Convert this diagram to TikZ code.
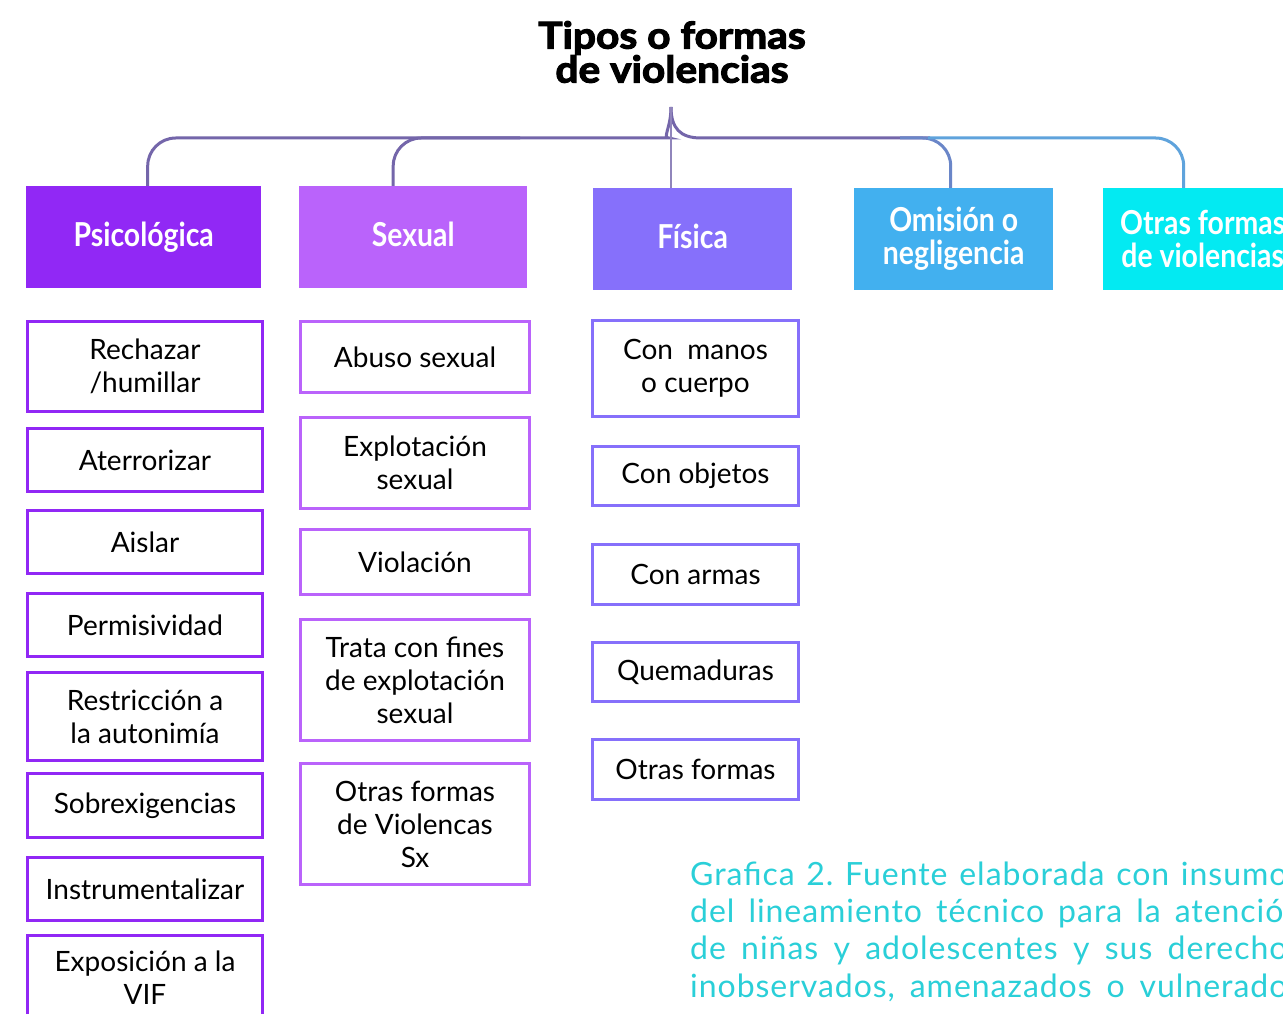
\documentclass[tikz,border=0pt]{standalone}
\usepackage{fontspec}
\setmainfont{Lato}
\newfontfamily\headfont[FakeStretch=0.86]{Lato}
\newfontfamily\titlefont[FakeStretch=1.1,FakeBold=3]{Lato}
\newfontfamily\capfont[LetterSpace=3]{Lato}
\usetikzlibrary{calc}

\definecolor{psicolor}{HTML}{9128F5}
\definecolor{sexcolor}{HTML}{BA63FB}
\definecolor{fiscolor}{HTML}{8670FB}
\definecolor{omicolor}{HTML}{42B0EF}
\definecolor{otrcolor}{HTML}{03EAF2}
\definecolor{linkA}{HTML}{7466AA}
\definecolor{linkB}{HTML}{6A86C8}
\definecolor{linkC}{HTML}{5FA3DC}
\definecolor{capcolor}{HTML}{2ACFD8}

\tikzset{
  head/.style={fill=#1, text=white, font=\headfont\bfseries\fontsize{33}{33}\selectfont,
    align=center, inner sep=0pt, anchor=north west},
  item/.style={draw=#1, line width=3pt, text=black, font=\fontsize{28}{33}\selectfont,
    align=center, inner sep=0pt, anchor=north west},
  link/.style={line width=3pt, draw=#1},
  caption/.style={text=capcolor, font=\capfont\frenchspacing\fontsize{32}{37}\selectfont, inner sep=0pt, anchor=base west}
}

\begin{document}
\begin{tikzpicture}[x=1pt,y=-1pt]

\clip (0,0) rectangle (1283,1014);
\fill[white] (0,0) rectangle (1283,1014);

% titulo
\node[font=\titlefont\bfseries\fontsize{37}{34}\selectfont, align=center] (titulo) at (672,52) {Tipos o formas\\de violencias};

% cabeceras
\node[head=psicolor, minimum width=235, minimum height=102] (psi) at (26,186) {Psicológica};
\node[head=sexcolor, minimum width=228, minimum height=102] (sex) at (299,186) {Sexual\vphantom{g}};
\node[head=fiscolor, minimum width=199, minimum height=102] (fis) at (593,188) {Física\vphantom{g}};
\node[head=omicolor, minimum width=199, minimum height=102] (omi) at (854,188) {Omisión o\\negligencia};
\node[head=otrcolor, minimum width=199, minimum height=102] (otr) at (1103,188) {Otras formas\\de violencias};

% llave
\coordinate (punta) at (671,107);
\draw[link=linkA, rounded corners=28] ($(psi.north)+(4,0)$) |- (641,138) .. controls (662,138) and (671,128) .. (punta);
\draw[link=linkA, rounded corners=28] ($(sex.north)+(-20,0)$) |- (520,138);
\draw[link=linkA] (punta) .. controls (671,128) and (680,138) .. (701,138) -- (930,138);
\draw[link=linkB, rounded corners=28] (900,138) -| ($(omi.north)+(-3,0)$);
\draw[link=linkC, rounded corners=28] (928,138) -| ($(otr.north)+(-19,0)$);
\draw[linkA!80!white, line width=2pt] (punta) -- (punta |- fis.north);

% Psicologica
\node[item=psicolor, minimum width=235, minimum height=90] (p1) at (26,320) {Rechazar\\/humillar};
\node[item=psicolor, minimum width=235, minimum height=63] (p2) at (26,427) {Aterrorizar};
\node[item=psicolor, minimum width=235, minimum height=63] (p3) at (26,509) {Aislar};
\node[item=psicolor, minimum width=235, minimum height=63] (p4) at (26,592) {Permisividad};
\node[item=psicolor, minimum width=235, minimum height=88] (p5) at (26,671) {Restricción a\\la autonimía};
\node[item=psicolor, minimum width=235, minimum height=64] (p6) at (26,772) {Sobrexigencias};
\node[item=psicolor, minimum width=235, minimum height=63] (p7) at (26,856) {Instrumentalizar};
\node[item=psicolor, minimum width=235, minimum height=84] (p8) at (26,934) {Exposición a la\\VIF};

% Sexual
\node[item=sexcolor, minimum width=229, minimum height=71] (s1) at (299,320) {Abuso sexual};
\node[item=sexcolor, minimum width=229, minimum height=91] (s2) at (299,416) {Explotación\\sexual};
\node[item=sexcolor, minimum width=229, minimum height=65] (s3) at (299,528) {Violación};
\node[item=sexcolor, minimum width=229, minimum height=121] (s4) at (299,618) {Trata con fines\\de explotación\\sexual};
\node[item=sexcolor, minimum width=229, minimum height=121] (s5) at (299,762) {Otras formas\\de Violencas\\Sx};

% Fisica
\node[item=fiscolor, minimum width=206, minimum height=96] (f1) at (591,319) {Con\ \ manos\\o cuerpo};
\node[item=fiscolor, minimum width=206, minimum height=59] (f2) at (591,445) {Con objetos};
\node[item=fiscolor, minimum width=206, minimum height=60] (f3) at (591,543) {Con armas};
\node[item=fiscolor, minimum width=206, minimum height=59] (f4) at (591,641) {Quemaduras};
\node[item=fiscolor, minimum width=206, minimum height=60] (f5) at (591,738) {Otras formas};

% fuente
\node[caption] (c1) at (690,885) {\makebox[612pt][s]{Grafica 2. Fuente elaborada con insumos}};
\node[caption] (c2) at (690,922) {\makebox[612pt][s]{del lineamiento técnico para la atención}};
\node[caption] (c3) at (690,959) {\makebox[612pt][s]{de niñas y adolescentes y sus derechos}};
\node[caption] (c4) at (690,997) {\makebox[612pt][s]{inobservados, amenazados o vulnerados}};

\end{tikzpicture}
\end{document}
